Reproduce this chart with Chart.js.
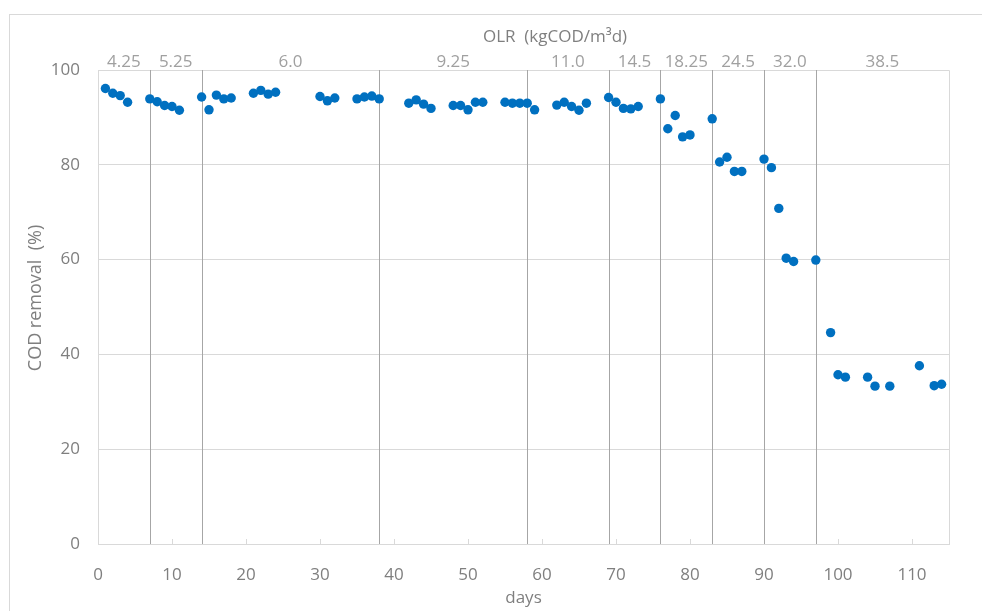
<!DOCTYPE html>
<html>
<head>
<meta charset="utf-8">
<script src="https://cdn.jsdelivr.net/npm/chart.js@4.4.1/dist/chart.umd.min.js"></script>
<style>
  html, body { margin: 0; padding: 0; background: #fff; }
  #wrap { width: 982px; height: 611px; }
</style>
</head>
<body>
<div id="wrap"><canvas id="codChart" width="982" height="611"></canvas></div>
<script>
// Sampling days and COD removal (%)
const days = [
  1, 2, 3, 4, 7, 8, 9, 10, 11, 14, 15, 16, 17, 18, 21, 22, 23, 24,
  30, 31, 32, 35, 36, 37, 38, 42, 43, 44, 45, 48, 49, 50, 51, 52,
  55, 56, 57, 58, 59, 62, 63, 64, 65, 66, 69, 70, 71, 72, 73, 76,
  77, 78, 79, 80, 83, 84, 85, 86, 87, 90, 91, 92, 93, 94, 97, 99,
  100, 101, 104, 105, 107, 111, 113, 114
];
const codRemoval = [
  96.1, 95.1, 94.6, 93.2, 93.9, 93.3, 92.5, 92.3, 91.5, 94.3, 91.6, 94.7, 93.9, 94.1, 95.1, 95.7, 94.9, 95.3,
  94.4, 93.5, 94.1, 93.9, 94.3, 94.5, 93.9, 93.0, 93.7, 92.8, 91.9, 92.5, 92.5, 91.6, 93.2, 93.2,
  93.2, 93.0, 93.0, 93.0, 91.6, 92.6, 93.2, 92.3, 91.5, 93.0, 94.2, 93.2, 91.9, 91.8, 92.3, 93.9,
  87.6, 90.4, 85.9, 86.3, 89.7, 80.6, 81.6, 78.6, 78.6, 81.2, 79.4, 70.8, 60.3, 59.6, 59.9, 44.6,
  35.7, 35.2, 35.2, 33.3, 33.3, 37.6, 33.4, 33.7
];

// OLR phases: boundaries (days) and the loading rate for each phase
const phaseBounds = [0, 7, 14, 38, 58, 69, 76, 83, 90, 97, 115];
const olrLabels = ['4.25', '5.25', '6.0', '9.25', '11.0', '14.5', '18.25', '24.5', '32.0', '38.5'];

const FONT = "'Open Sans', sans-serif";
const TEXT_GRAY = '#7f7f7f';
const GRID_GRAY = '#d9d9d9';

const phasePlugin = {
  id: 'phases',
  beforeDatasetsDraw(chart) {
    const { ctx, chartArea: a, scales: { x } } = chart;
    ctx.save();

    // outer chart border
    ctx.strokeStyle = GRID_GRAY;
    ctx.lineWidth = 1;
    ctx.strokeRect(9.5, 14.5, 1000, 700);

    // plot box (top / right edges)
    ctx.beginPath();
    ctx.moveTo(a.left, Math.round(a.top) + 0.5);
    ctx.lineTo(Math.round(a.right) + 0.5, Math.round(a.top) + 0.5);
    ctx.lineTo(Math.round(a.right) + 0.5, a.bottom);
    ctx.stroke();

    // small inside tick marks on the day axis
    for (let d = 10; d <= 110; d += 10) {
      const px = Math.round(x.getPixelForValue(d)) + 0.5;
      ctx.beginPath();
      ctx.moveTo(px, a.bottom);
      ctx.lineTo(px, a.bottom - 5);
      ctx.stroke();
    }

    // phase separators
    ctx.strokeStyle = '#a6a6a6';
    phaseBounds.slice(1, -1).forEach(d => {
      const px = Math.round(x.getPixelForValue(d)) + 0.5;
      ctx.beginPath();
      ctx.moveTo(px, a.top);
      ctx.lineTo(px, a.bottom);
      ctx.stroke();
    });

    // OLR labels centred in each phase
    ctx.fillStyle = '#a0a0a0';
    ctx.font = `17px ${FONT}`;
    ctx.textAlign = 'center';
    ctx.textBaseline = 'alphabetic';
    olrLabels.forEach((lbl, i) => {
      const mid = (phaseBounds[i] + phaseBounds[i + 1]) / 2;
      ctx.fillText(lbl, x.getPixelForValue(mid), a.top - 3);
    });

    // OLR heading
    ctx.fillStyle = TEXT_GRAY;
    ctx.textBaseline = 'middle';
    ctx.fillText('OLR  (kgCOD/m³d)', 555, 37);

    // y axis title
    ctx.font = `18px ${FONT}`;
    ctx.translate(36, 298);
    ctx.rotate(-Math.PI / 2);
    ctx.fillText('COD removal  (%)', 0, 0);
    ctx.restore();
  }
};

const ctx = document.getElementById('codChart').getContext('2d');
new Chart(ctx, {
  type: 'scatter',
  data: {
    datasets: [{
      label: 'COD removal',
      data: days.map((d, i) => ({ x: d, y: codRemoval[i] })),
      backgroundColor: '#0070c0',
      borderWidth: 0,
      pointRadius: 4.7,
    }],
  },
  options: {
    responsive: false,
    animation: false,
    layout: { padding: { left: 0, top: 70, right: 33, bottom: 0 } },
    plugins: {
      legend: { display: false },
      tooltip: { enabled: false },
    },
    scales: {
      x: {
        type: 'linear',
        min: 0,
        max: 115,
        afterFit: (scale) => { scale.height = 67; },
        ticks: {
          stepSize: 10,
          includeBounds: false,
          color: TEXT_GRAY,
          font: { family: FONT, size: 17 },
          padding: 21,
          maxRotation: 0,
        },
        grid: { display: false, drawTicks: false },
        border: { display: true, color: GRID_GRAY },
        title: {
          display: true,
          text: 'days',
          color: TEXT_GRAY,
          font: { family: FONT, size: 17 },
          padding: { top: 0, bottom: 3 },
        },
      },
      y: {
        min: 0,
        max: 100,
        afterFit: (scale) => { scale.width = 98; },
        ticks: {
          stepSize: 20,
          color: TEXT_GRAY,
          font: { family: FONT, size: 17 },
          padding: 18,
        },
        grid: { color: GRID_GRAY, drawTicks: false },
        border: { display: true, color: GRID_GRAY },
      },
    },
  },
  plugins: [phasePlugin],
});
</script>
</body>
</html>
